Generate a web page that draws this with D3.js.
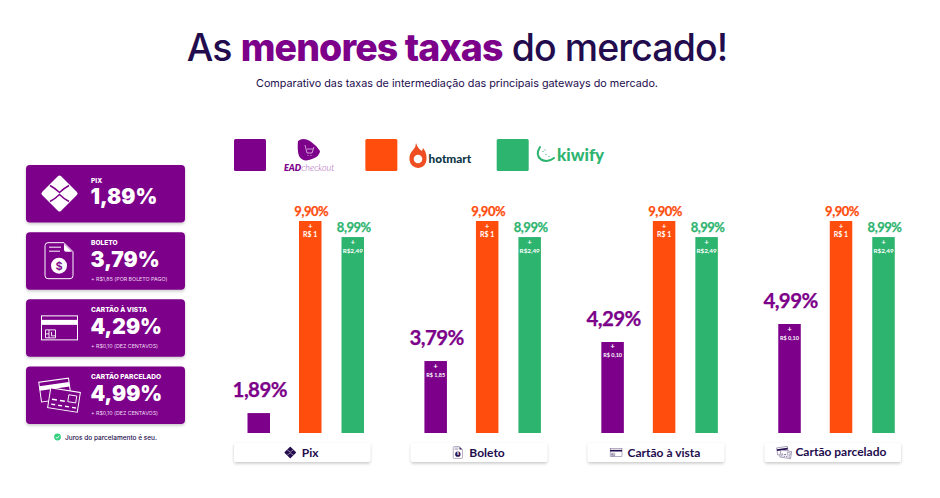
<!DOCTYPE html>
<html>
<head>
<meta charset="utf-8">
<script src="https://cdn.jsdelivr.net/npm/d3@7"></script>
<style>
  html, body { margin: 0; padding: 0; background: #fff; }
  svg { display: block; }
  text { font-family: Inter, sans-serif; }
  .lato { font-family: Lato, sans-serif; }
</style>
</head>
<body>
<svg id="chart" width="940" height="498"></svg>
<script>
// chart data
const categories = ["Pix", "Boleto", "Cartão à vista", "Cartão parcelado"];
const gateways = ["EADcheckout", "hotmart", "kiwify"];

// bar heights as drawn in the picture (the purple bars are not to scale with their labels)
const eadBars = [0.93, 3.36, 4.25, 5.09];
const hotmartBars = [9.9, 9.9, 9.9, 9.9];
const kiwifyBars = [9.15, 9.15, 9.15, 9.15];

const eadLabels = ["1,89%", "3,79%", "4,29%", "4,99%"];
const hotmartLabels = ["9,90%", "9,90%", "9,90%", "9,90%"];
const kiwifyLabels = ["8,99%", "8,99%", "8,99%", "8,99%"];

const eadFees = ["", "R$ 1,85", "R$ 0,10", "R$ 0,10"];
const hotmartFees = ["R$ 1", "R$ 1", "R$ 1", "R$ 1"];
const kiwifyFees = ["R$2,49", "R$2,49", "R$2,49", "R$2,49"];

const cardTitles = ["PIX", "BOLETO", "CARTÃO À VISTA", "CARTÃO PARCELADO"];
const cardRates = ["1,89%", "3,79%", "4,29%", "4,99%"];
const cardNotes = ["", "+ R$1,85 (POR BOLETO PAGO)", "+ R$0,10 (DEZ CENTAVOS)", "+ R$0,10 (DEZ CENTAVOS)"];

const purple = "#7c0089", orange = "#ff4d0d", green = "#2db46f", ink = "#230c4d";

const svg = d3.select("#chart");

// soft shadow for cards and pills
const shadow = svg.append("defs").append("filter").attr("id", "shadow")
    .attr("x", "-10%").attr("y", "-20%").attr("width", "120%").attr("height", "150%");
shadow.append("feDropShadow").attr("dx", 0).attr("dy", 1.5).attr("stdDeviation", 1.8)
    .attr("flood-color", "#000").attr("flood-opacity", 0.22);

// title
const title = svg.append("text").attr("x", 457).attr("y", 60.5)
    .attr("text-anchor", "middle").attr("font-size", 37.5).attr("fill", ink)
    .attr("font-weight", 500).attr("letter-spacing", -0.9);
title.append("tspan").text("As ");
title.append("tspan").attr("font-weight", 800).attr("fill", purple).text("menores taxas");
title.append("tspan").text(" do mercado!");

svg.append("text").attr("x", 457).attr("y", 87)
    .attr("text-anchor", "middle").attr("font-size", 10.8).attr("fill", ink)
    .text("Comparativo das taxas de intermediação das principais gateways do mercado.");

// icons, drawn around their own centre
function pixIcon(g, color, back, s) {
    const c = g.append("g").attr("transform", "scale(" + s + ")");
    c.append("path").attr("d", "M0,-16L16,0L0,16L-16,0Z")
        .attr("fill", color).attr("stroke", color).attr("stroke-width", 4).attr("stroke-linejoin", "round");
    c.append("path").attr("d", "M-9.5,-8Q-4,-5 0,-1Q4,-5 9.5,-8M-9.5,8Q-4,5 0,1Q4,5 9.5,8")
        .attr("fill", "none").attr("stroke", back).attr("stroke-width", 1.5);
}

function docIcon(g, color, back, s) {
    const c = g.append("g").attr("transform", "scale(" + s + ")");
    c.append("path").attr("d", "M-11,-18H5L14,-9V15Q14,18 11,18H-11Q-14,18 -14,15V-15Q-14,-18 -11,-18Z")
        .attr("fill", "none").attr("stroke", color).attr("stroke-width", 1);
    c.append("path").attr("d", "M5,-17L13,-9H7Q5,-9 5,-11Z").attr("fill", color);
    c.append("path").attr("d", "M-10,-13.5H2M-10,-9.5H1").attr("stroke", color).attr("stroke-width", 1);
    c.append("circle").attr("cy", 5).attr("r", 8).attr("fill", color);
    c.append("text").attr("y", 9).attr("text-anchor", "middle").attr("font-size", 11)
        .attr("font-weight", 600).attr("fill", back).text("$");
}

function cardIcon(g, color, s) {
    const c = g.append("g").attr("transform", "scale(" + s + ")");
    c.append("rect").attr("x", -18).attr("y", -12).attr("width", 36).attr("height", 24)
        .attr("fill", "none").attr("stroke", color).attr("stroke-width", 1);
    c.append("rect").attr("x", -18).attr("y", -8).attr("width", 36).attr("height", 5).attr("fill", color);
    c.append("path").attr("d", "M-14,2H-4V10H-14ZM-10.5,2V10M-14,6H-10.5M-8,4V8H-4")
        .attr("fill", "none").attr("stroke", color).attr("stroke-width", 0.9);
}

function cardsIcon(g, color, back, s) {
    const c = g.append("g").attr("transform", "scale(" + s + ")");
    const rear = c.append("g").attr("transform", "translate(-4,-5) rotate(-8)");
    rear.append("rect").attr("x", -15).attr("y", -10).attr("width", 30).attr("height", 20)
        .attr("fill", back).attr("stroke", color).attr("stroke-width", 1);
    rear.append("rect").attr("x", -15).attr("y", -6).attr("width", 30).attr("height", 4.5).attr("fill", color);
    const front = c.append("g").attr("transform", "translate(5,5) rotate(9)");
    front.append("rect").attr("x", -15).attr("y", -10).attr("width", 30).attr("height", 20)
        .attr("fill", back).attr("stroke", color).attr("stroke-width", 1);
    front.append("path").attr("d", "M-12,1H-7M-4,1H1").attr("stroke", color).attr("stroke-width", 1.6);
    front.append("path").attr("d", "M-12,6H-8M-5,6H-1M2,6H6M9,6H13").attr("stroke", color).attr("stroke-width", 1.4);
    front.append("rect").attr("x", 4).attr("y", -6).attr("width", 8).attr("height", 7)
        .attr("fill", "none").attr("stroke", color).attr("stroke-width", 0.9);
}

function drawIcon(g, i, color, back, s) {
    if (i === 0) pixIcon(g, color, back, s);
    else if (i === 1) docIcon(g, color, back, s);
    else if (i === 2) cardIcon(g, color, s);
    else cardsIcon(g, color, back, s);
}

// left column of rate cards
const yCard = d3.scaleBand().domain(cardTitles).range([165, 424]).paddingInner(0.145);

const cards = svg.append("g").selectAll("g").data(cardTitles).join("g")
    .attr("transform", function (d) { return "translate(26," + yCard(d) + ")"; });

cards.append("rect").attr("width", 159).attr("height", yCard.bandwidth()).attr("rx", 4)
    .attr("fill", purple).attr("filter", "url(#shadow)");

cards.append("text").attr("x", 65)
    .attr("y", function (d, i) { return cardNotes[i] ? 12.5 : 18; })
    .attr("font-size", 6.6).attr("font-weight", 800).attr("fill", "#fff")
    .text(function (d) { return d; });

cards.append("text").attr("x", 64.5)
    .attr("y", function (d, i) { return cardNotes[i] ? 34.5 : 39.3; })
    .attr("font-size", 21).attr("font-weight", 900).attr("fill", "#fff")
    .text(function (d, i) { return cardRates[i]; });

cards.append("text").attr("x", 65).attr("y", 48.7)
    .attr("font-size", 5.3).attr("fill", "#f0dcf3")
    .text(function (d, i) { return cardNotes[i]; });

cards.append("g").attr("transform", function (d, i) {
        return "translate(" + [33.5, 33, 33.5, 33][i] + ",28.5)";
    })
    .each(function (d, i) { drawIcon(d3.select(this), i, "#fff", purple, 1); });

// footnote
svg.append("circle").attr("cx", 57.5).attr("cy", 437).attr("r", 3.4).attr("fill", "#35d07f");
svg.append("path").attr("d", "M55.8,437L57,438.3L59.3,435.8").attr("fill", "none")
    .attr("stroke", "#fff").attr("stroke-width", 0.9);
svg.append("text").attr("x", 65).attr("y", 440).attr("font-size", 6.5).attr("font-weight", 500)
    .attr("fill", ink).text("Juros do parcelamento é seu.");

// legend
const legendX = d3.scalePoint().domain(gateways).range([234, 496.7]);
const color = d3.scaleOrdinal().domain(gateways).range([purple, orange, green]);

svg.append("g").selectAll("rect").data(gateways).join("rect")
    .attr("x", function (d) { return legendX(d); }).attr("y", 139)
    .attr("width", 32).attr("height", 32).attr("rx", 1.5)
    .attr("fill", function (d) { return color(d); });

// EADcheckout logo
const eadLogo = svg.append("g");
eadLogo.append("path").attr("d", "M298,141Q303,137 310,141Q316,145 320,151Q320,156 312,159Q303,163 299,156Q297,150 298,141Z")
    .attr("fill", purple);
eadLogo.append("path").attr("d", "M305,145L307,153H312L314,147M307,149H313M308,155V156M311,155V156").attr("fill", "none")
    .attr("stroke", "#e6c4ea").attr("stroke-width", 0.8);
const eadText = eadLogo.append("text").attr("class", "lato").attr("x", 284).attr("y", 170.7)
    .attr("font-size", 9).attr("font-style", "italic").attr("fill", purple);
eadText.append("tspan").attr("font-weight", 800).text("EAD");
eadText.append("tspan").attr("font-weight", 300).attr("fill", "#a555b0").text("checkout");

// hotmart logo
const hotLogo = svg.append("g");
hotLogo.append("path").attr("d", "M416,143Q418,149 422,151L423,148Q427,153 426.5,159A8.5,8.5 0 0 1 409.5,160Q409,154 413,150Q416,147 416,143Z")
    .attr("fill", "#ef4e23");
hotLogo.append("circle").attr("cx", 418).attr("cy", 159).attr("r", 4.3).attr("fill", "#fff");
hotLogo.append("text").attr("class", "lato").attr("x", 428.5).attr("y", 162.5)
    .attr("font-size", 11.8).attr("font-weight", 900).attr("fill", "#0d3547").text("hotmart");

// kiwify logo
const kiwiLogo = svg.append("g");
kiwiLogo.append("path").attr("d", "M540,147Q535,155 541,159.5Q548,163 554,158")
    .attr("fill", "none").attr("stroke", green).attr("stroke-width", 2).attr("stroke-linecap", "round");
kiwiLogo.append("path").attr("d", "M543,151V152M546,154V155M549,156V157M545,149.5V150.5")
    .attr("stroke", green).attr("stroke-width", 1);
kiwiLogo.append("text").attr("class", "lato").attr("x", 557).attr("y", 161)
    .attr("font-size", 17).attr("font-weight", 900).attr("fill", green).text("kiwify");

// scales for the bars
const x0 = d3.scaleBand().domain(categories).range([234, 901]).paddingInner(0.23);
const xInner = d3.scaleOrdinal().domain(gateways).range([13.5, 65, 107.5]);
const barWidth = 22.5;
const y = d3.scaleLinear().domain([0, 9.9]).range([433, 221]);

const rows = [];
categories.forEach(function (c, i) {
    rows.push({ cat: c, gate: gateways[0], v: eadBars[i], label: eadLabels[i], fee: eadFees[i] });
    rows.push({ cat: c, gate: gateways[1], v: hotmartBars[i], label: hotmartLabels[i], fee: hotmartFees[i] });
    rows.push({ cat: c, gate: gateways[2], v: kiwifyBars[i], label: kiwifyLabels[i], fee: kiwifyFees[i] });
});

const bars = svg.append("g").selectAll("g").data(rows).join("g")
    .attr("transform", function (d) {
        return "translate(" + (x0(d.cat) + xInner(d.gate)) + ",0)";
    });

bars.append("rect")
    .attr("y", function (d) { return y(d.v); })
    .attr("width", barWidth)
    .attr("height", function (d) { return y(0) - y(d.v); })
    .attr("fill", function (d) { return color(d.gate); });

bars.append("text").attr("class", "lato")
    .attr("x", barWidth / 2 + 1)
    .attr("y", function (d) { return y(d.v) - (d.gate === gateways[0] ? 15.7 : 5.5); })
    .attr("text-anchor", "middle")
    .attr("font-size", function (d) { return d.gate === gateways[0] ? 20.5 : 13; })
    .attr("letter-spacing", function (d) { return d.gate === gateways[0] ? -0.6 : -0.5; })
    .attr("font-weight", 700)
    .attr("stroke", function (d) { return color(d.gate); })
    .attr("stroke-width", 0.25)
    .attr("fill", function (d) { return color(d.gate); })
    .text(function (d) { return d.label; });

// fee inside the bar
const withFee = bars.filter(function (d) { return d.fee !== ""; });

withFee.append("text").attr("class", "lato")
    .attr("x", barWidth / 2).attr("y", function (d) { return y(d.v) + 7.5; })
    .attr("text-anchor", "middle").attr("font-size", 8).attr("font-weight", 700)
    .attr("fill", "#fff").text("+");

withFee.append("text").attr("class", "lato")
    .attr("x", barWidth / 2).attr("y", function (d) { return y(d.v) + 15.5; })
    .attr("text-anchor", "middle").attr("font-weight", 700)
    .attr("font-size", function (d) {
        if (d.gate === gateways[0]) return 5.5;
        return d.gate === gateways[1] ? 7 : 6.3;
    })
    .attr("fill", "#fff").text(function (d) { return d.fee; });

// category pills
const pills = svg.append("g").selectAll("g").data(categories).join("g")
    .attr("transform", function (d) { return "translate(" + x0(d) + ",443)"; });

pills.append("rect").attr("width", x0.bandwidth()).attr("height", 19).attr("rx", 2)
    .attr("fill", "#fff").attr("filter", "url(#shadow)");

pills.each(function (d, i) {
    const g = d3.select(this);
    const label = g.append("text").attr("class", "lato")
        .attr("x", x0.bandwidth() / 2 + 8).attr("y", i === 3 ? 13 : 14)
        .attr("text-anchor", "middle").attr("font-size", 12).attr("font-weight", 700)
        .attr("fill", ink).text(d);
    const start = x0.bandwidth() / 2 + 8 - label.node().getComputedTextLength() / 2;
    const icon = g.append("g").attr("transform", "translate(" + (start - 11.5) + ",9.5)");
    const s = [0.32, 0.33, 0.33, 0.36][i];
    drawIcon(icon, i, ink, "#fff", s);
});
</script>
</body>
</html>
